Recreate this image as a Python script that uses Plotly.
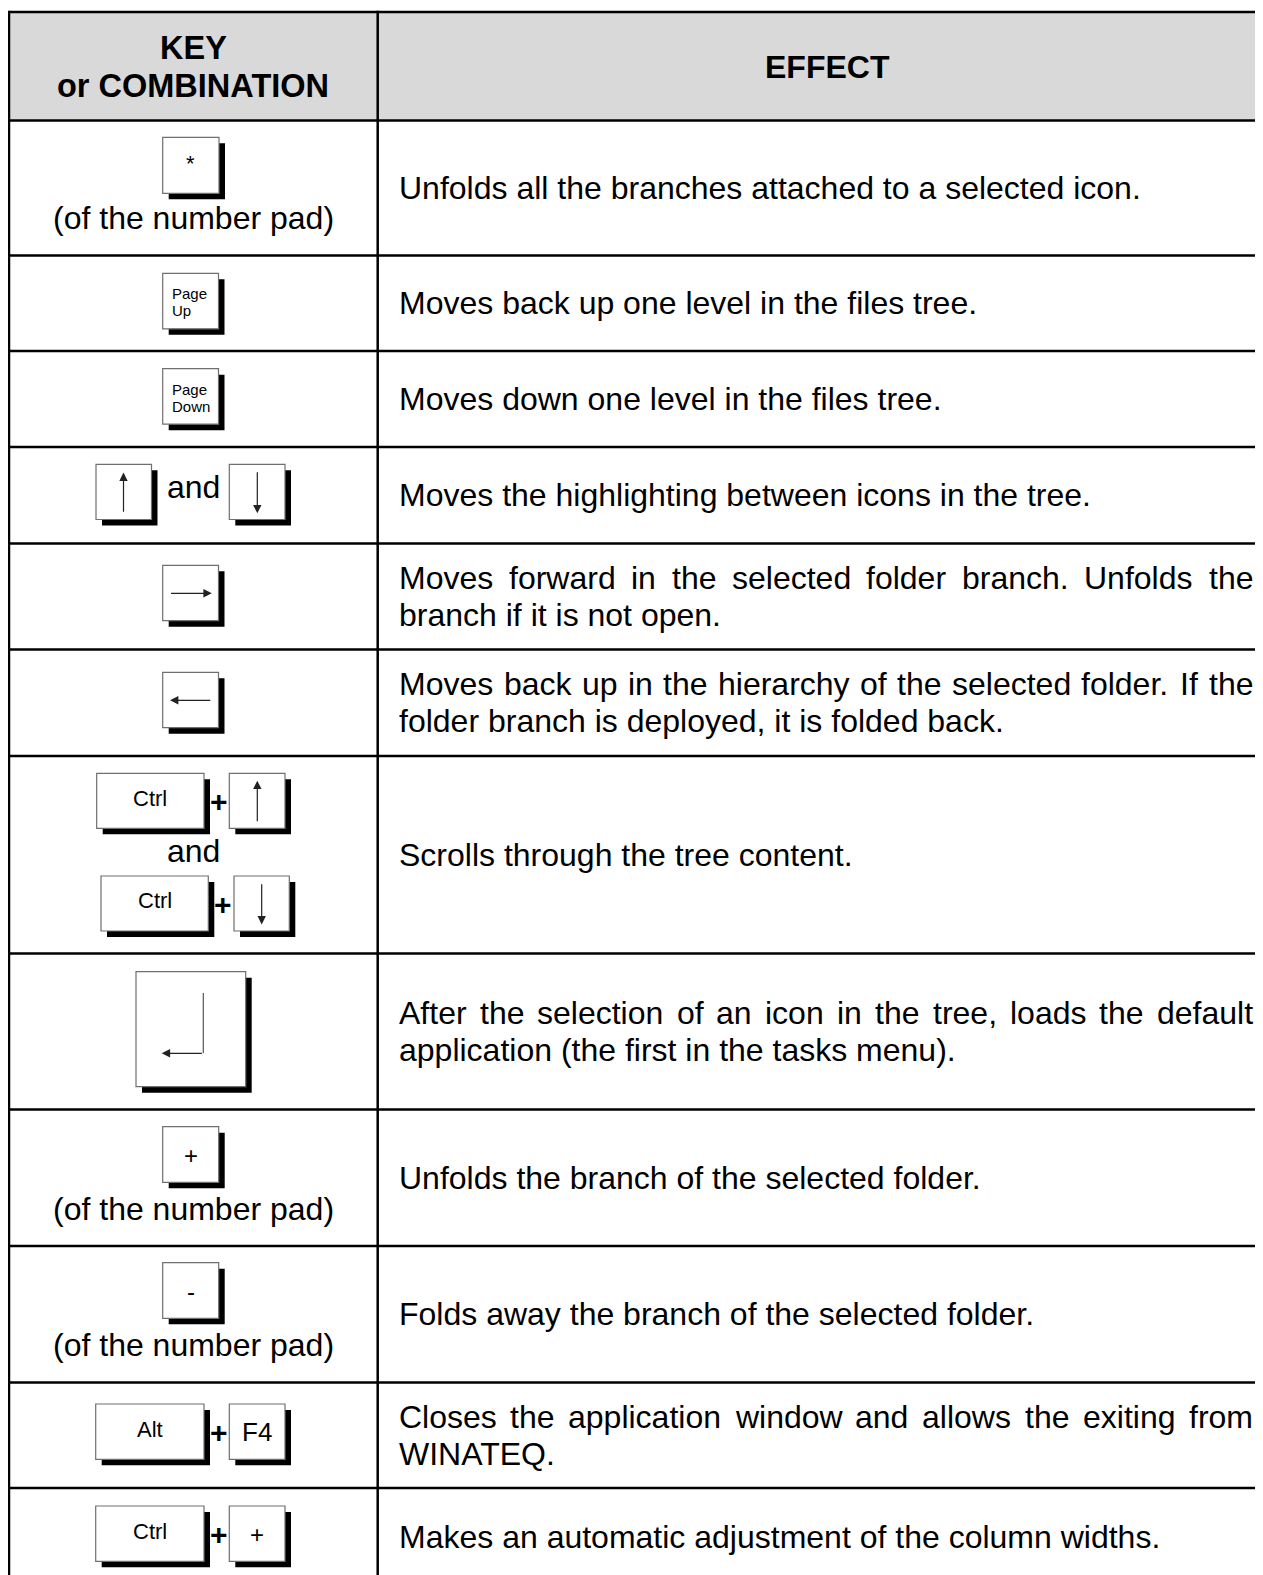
import plotly.graph_objects as go

# ---------------- data (texts) ----------------
header_left = ["KEY", "or COMBINATION"]
header_right = "EFFECT"

effects = [
    ["Unfolds all the branches attached to a selected icon."],
    ["Moves back up one level in the files tree."],
    ["Moves down one level in the files tree."],
    ["Moves the highlighting between icons in the tree."],
    ["Moves forward in the selected folder branch. Unfolds the",
     "branch if it is not open."],
    ["Moves back up in the hierarchy of the selected folder. If the",
     "folder branch is deployed, it is folded back."],
    ["Scrolls through the tree content."],
    ["After the selection of an icon in the tree, loads the default",
     "application (the first in the tasks menu)."],
    ["Unfolds the branch of the selected folder."],
    ["Folds away the branch of the selected folder."],
    ["Closes the application window and allows the exiting from",
     "WINATEQ."],
    ["Makes an automatic adjustment of the column widths."],
]

numpad_keys = ["*", "+", "-"]
numpad_caption = "(of the number pad)"
page_keys = [["Page", "Up"], ["Page", "Down"]]
modifier_keys = ["Ctrl", "Ctrl", "Alt", "Ctrl"]
second_keys = ["F4", "+"]
connector_and = "and"
connector_plus = "+"

# ---------------- layout constants ----------------
W, H = 1263, 1575
PAGE_MARGIN = 8          # default body margin of the html page
FONT = "Liberation Sans, Arial, sans-serif"
row_edges = [12, 120.5, 255.5, 351, 447, 543.5, 649.5, 756, 953.5,
             1109.5, 1246, 1382.5, 1488, 1586]
X_LEFT, X_DIV, X_RIGHT = 9, 377.7, 1290
TEXT_L, TEXT_R = 398, 1252
BODY = 32
LINE_GAP = 37

# Arial / Liberation Sans advance widths (per 1000 em)
CW = {' ': 278, '.': 278, ',': 278, '(': 333, ')': 333, '-': 333,
      'a': 556, 'b': 556, 'c': 500, 'd': 556, 'e': 556, 'f': 278, 'g': 556,
      'h': 556, 'i': 222, 'j': 222, 'k': 500, 'l': 222, 'm': 833, 'n': 556,
      'o': 556, 'p': 556, 'q': 556, 'r': 333, 's': 500, 't': 278, 'u': 556,
      'v': 500, 'w': 722, 'x': 500, 'y': 500, 'z': 500,
      'A': 667, 'B': 667, 'C': 722, 'D': 722, 'E': 667, 'F': 611, 'G': 778,
      'H': 722, 'I': 278, 'J': 500, 'K': 667, 'L': 556, 'M': 833, 'N': 722,
      'O': 778, 'P': 667, 'Q': 778, 'R': 722, 'S': 667, 'T': 611, 'U': 722,
      'V': 667, 'W': 944, 'X': 667, 'Y': 667, 'Z': 611}


def tw(s, size):
    return sum(CW.get(c, 556) for c in s) / 1000.0 * size


shapes = []
annots = []


def text(t, x, y, size, xanchor="center", bold=False, color="black"):
    annots.append(dict(
        text=f"<b>{t}</b>" if bold else t, x=x, y=y, xref="x", yref="y",
        xanchor=xanchor, yanchor="middle", showarrow=False, borderpad=0,
        font=dict(family=FONT, size=size, color=color)))


def rect(x0, y0, x1, y1, fill, line_color=None, lw=0):
    shapes.append(dict(type="rect", xref="x", yref="y", x0=x0, y0=y0, x1=x1, y1=y1,
                       fillcolor=fill, line=dict(color=line_color or fill, width=lw),
                       layer="above"))


def line(x0, y0, x1, y1, color="black", lw=2.5):
    shapes.append(dict(type="line", xref="x", yref="y", x0=x0, y0=y0, x1=x1, y1=y1,
                       line=dict(color=color, width=lw), layer="above"))


def key(x0, y0, x1, y1, off=6):
    rect(x0 + off, y0 + off, x1 + off, y1 + off, "black")
    rect(x0, y0, x1, y1, "white", "#6f6f6f", 1.2)


def arrow(tx, ty, hx, hy):
    annots.append(dict(text="", x=hx, y=hy, ax=tx, ay=ty, xref="x", yref="y",
                       axref="x", ayref="y", showarrow=True, arrowhead=2,
                       arrowsize=1.4, arrowwidth=1.2, arrowcolor="#222",
                       standoff=0, startstandoff=0))


# ---------------- table frame ----------------
rect(X_LEFT, row_edges[0], X_RIGHT, row_edges[1], "#d9d9d9")
for y in row_edges[:-1]:
    line(X_LEFT, y, X_RIGHT, y)
line(X_LEFT, row_edges[0] - 1.2, X_LEFT, H + 20)
line(X_DIV, row_edges[0] - 1.2, X_DIV, H + 20)

# header
text(header_left[0], 193, 48, 32.5, bold=True)
text(header_left[1], 193, 86, 32.5, bold=True)
text(header_right, 827, 67, 32, bold=True)

# ---------------- effect texts ----------------
for i, lines in enumerate(effects):
    yc = (row_edges[i + 1] + row_edges[i + 2]) / 2
    n = len(lines)
    for j, ln in enumerate(lines):
        y = yc + (j - (n - 1) / 2) * LINE_GAP
        if j < n - 1:
            words = ln.split(" ")
            widths = [tw(w, BODY) for w in words]
            gap = (TEXT_R - TEXT_L - sum(widths)) / (len(words) - 1)
            x = TEXT_L
            for w, wd in zip(words, widths):
                text(w, x, y, BODY, xanchor="left")
                x += wd + gap
        else:
            text(ln, TEXT_L, y, BODY, xanchor="left")

# ---------------- key column ----------------
# row 1 : numpad *
key(162.7, 137.3, 219, 193.3)
text(numpad_keys[0], 190.8, 163, 22)
text(numpad_caption, 193, 218, BODY)

# row 2/3 : page keys
for (top, labels) in zip([273.3, 368.7], page_keys):
    key(162.7, top, 218.5, top + 55.5)
    text(labels[0], 170.5, top + 20.5, 15, xanchor="left")
    text(labels[1], 170.5, top + 37.5, 15, xanchor="left")

# row 4 : up and down
key(96, 464.3, 151.5, 519.5)
arrow(123.5, 513.3, 123.5, 472.5)
text(connector_and, 193, 487, BODY)
key(229.3, 464.3, 285, 519.5)
arrow(257.3, 470.7, 257.3, 513.3)

# row 5 : right
key(162.7, 565.3, 218.5, 620.7)
arrow(169.5, 593.3, 211.8, 593.3)

# row 6 : left
key(162.7, 672.3, 218.5, 727.7)
arrow(211.8, 700.3, 170, 700.3)

# row 7 : ctrl + up / ctrl + down
key(96.7, 773.3, 204, 828.3)
text(modifier_keys[0], 150, 798, 22)
text(connector_plus, 218.7, 801, 30, bold=True)
key(229.3, 773.3, 285, 828.3)
arrow(257.3, 822.7, 257.3, 780.7)
text(connector_and, 193, 851, BODY)
key(101, 876, 208.3, 931)
text(modifier_keys[1], 154.5, 900.5, 22)
text(connector_plus, 222.8, 904, 30, bold=True)
key(234, 876, 289.3, 931)
arrow(261.7, 882.7, 261.7, 924.5)

# row 8 : enter
key(136, 971.7, 245.7, 1086.7)
line(203.3, 993, 203.3, 1053.3, color="#555", lw=1.2)
arrow(203.3, 1053.3, 161.7, 1053.3)

# row 9 / 10 : numpad + and -
for top, lab in zip([1126.7, 1262.7], numpad_keys[1:]):
    key(162.7, top, 218.7, top + 55.6)
    text(lab, 190.7, top + 28.5, 24)
    text(numpad_caption, 193, top + 82.5, BODY)

# row 11 / 12 : Alt + F4, Ctrl + +
for top, mod, sec, ssize in zip([1404, 1506], modifier_keys[2:], second_keys, [26, 24]):
    key(95.7, top, 204, top + 55.3)
    text(mod, 150, top + 25, 22)
    text(connector_plus, 218.7, top + 28.5, 30, bold=True)
    key(229.3, top, 285, top + 55.3)
    text(sec, 257, top + 28, ssize)

fig = go.Figure(go.Scatter(x=[0], y=[0], mode="markers", marker=dict(opacity=0),
                           hoverinfo="skip", showlegend=False))
fig.update_layout(
    width=W - PAGE_MARGIN, height=H - PAGE_MARGIN, margin=dict(l=0, r=0, t=0, b=0),
    paper_bgcolor="white", plot_bgcolor="white",
    xaxis=dict(range=[PAGE_MARGIN, W], visible=False, fixedrange=True),
    yaxis=dict(range=[H, PAGE_MARGIN], visible=False, fixedrange=True),
    shapes=shapes, annotations=annots, showlegend=False,
)
fig.write_html("out.html", config={"displayModeBar": False})
